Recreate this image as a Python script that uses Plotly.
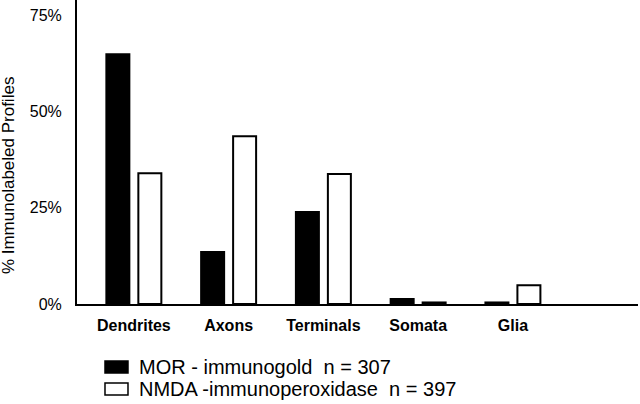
import plotly.graph_objects as go

categories = ["Dendrites", "Axons", "Terminals", "Somata", "Glia"]
mor_values = [64.9, 13.5, 23.9, 1.3, 0.4]
nmda_values = [34.0, 43.6, 33.8, 0.4, 4.9]
mor_name = "MOR - immunogold\u00a0\u00a0n = 307"
nmda_name = "NMDA -immunoperoxidase\u00a0\u00a0n = 397"
y_ticks = [0, 25, 50, 75]
y_tick_labels = ["0%", "25%", "50%", "75%"]
y_title = "% Immunolabeled Profiles"

font_family = "Liberation Sans, Arial, Helvetica, sans-serif"

fig = go.Figure()
fig.add_trace(go.Bar(
    x=categories, y=mor_values, name=mor_name, showlegend=False,
    marker=dict(color="black", line=dict(color="black", width=2)),
))
fig.add_trace(go.Bar(
    x=categories, y=nmda_values, name=nmda_name, showlegend=False,
    marker=dict(color="white", line=dict(color="black", width=2)),
))

# manual legend (keys + labels) placed below the plot area
legend_rows = [
    (mor_name, "black", -0.1875, -0.227, -0.207),
    (nmda_name, "white", -0.260, -0.2995, -0.280),
]
shapes = []
annotations = []
for label, fill, y1, y0, yt in legend_rows:
    shapes.append(dict(
        type="rect", xref="paper", yref="paper",
        x0=0.0499, x1=0.0909, y0=y0, y1=y1,
        fillcolor=fill, line=dict(color="black", width=1.5),
    ))
    annotations.append(dict(
        text=label, xref="paper", yref="paper",
        x=0.1070, y=yt, xanchor="left", yanchor="middle",
        showarrow=False,
        font=dict(size=20, family=font_family, color="black"),
    ))

annotations.append(dict(
    text=y_title,
    xref="paper", yref="paper",
    x=-0.123, y=0.424, xanchor="center", yanchor="middle",
    textangle=-90, showarrow=False,
    font=dict(size=17, family=font_family, color="black"),
))

fig.update_layout(
    width=640, height=404,
    margin=dict(l=77, r=2, t=0, b=100, autoexpand=False),
    paper_bgcolor="white", plot_bgcolor="white",
    barmode="group", bargap=0.325, bargroupgap=0.281,
    font=dict(family=font_family, color="black"),
    showlegend=False,
    xaxis=dict(
        type="category", range=[-0.6, 5.32],
        showline=True, linecolor="black", linewidth=2,
        showgrid=False, zeroline=False, ticks="",
        tickfont=dict(size=16, family=font_family, color="black", weight="bold"),
        ticklabelstandoff=6, automargin=False,
        fixedrange=True,
    ),
    yaxis=dict(
        range=[0, 79],
        tickvals=y_ticks, ticktext=y_tick_labels,
        showline=True, linecolor="black", linewidth=2,
        showgrid=False, zeroline=False, ticks="",
        tickfont=dict(size=16, family=font_family, color="black"),
        ticklabelstandoff=10, automargin=False,
        fixedrange=True,
    ),
    shapes=shapes,
    annotations=annotations,
)

fig.write_html(
    "out.html",
    config={"displayModeBar": False},
    post_script=(
        "document.body.style.margin='0';"
        "document.body.style.padding='0';"
        "document.documentElement.style.overflow='hidden';"
    ),
)
